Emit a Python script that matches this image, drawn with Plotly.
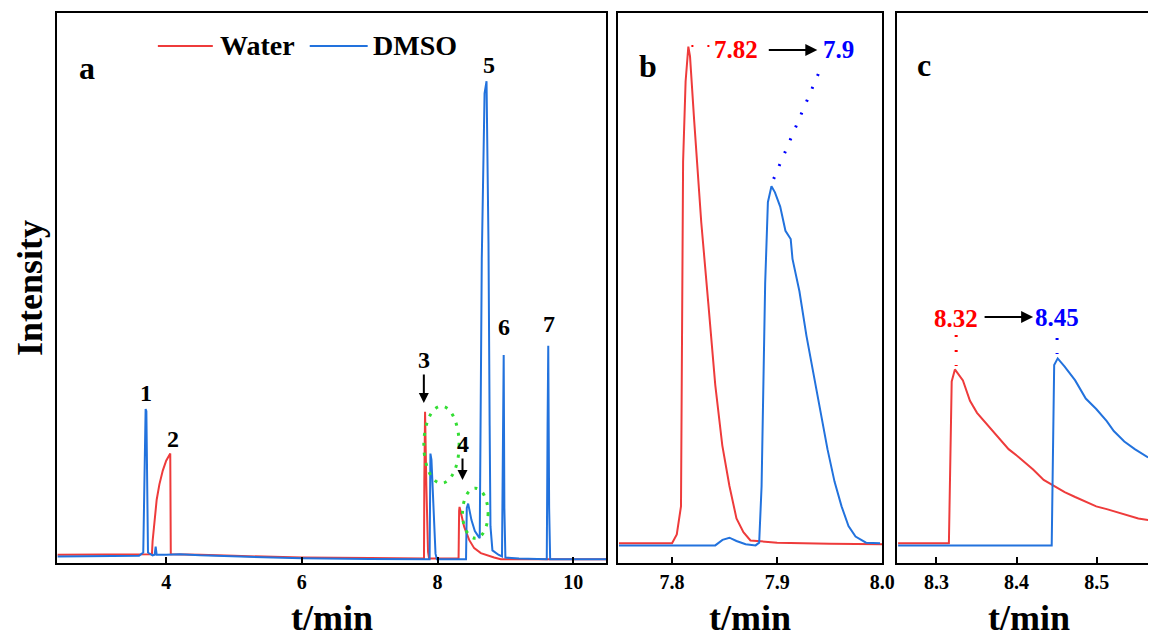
import plotly.graph_objects as go

# ---------------- data ----------------
# Panel a (full chromatogram)
water_a_t = [2.40, 3.00, 3.60, 3.79, 3.80, 3.83, 3.86, 3.90, 3.95, 4.00, 4.047, 4.060, 4.068,
             4.10, 4.50, 5.00, 6.00, 7.00, 7.80, 7.805, 7.816, 7.835, 7.86, 7.875, 8.00, 8.31,
             8.318, 8.324, 8.392, 8.466, 8.540, 8.638, 8.834, 8.932, 9.50, 10.50]
water_a_i = [1.5, 1.5, 1.5, 1.6, 4.0, 8.5, 11.5, 14.3, 16.8, 18.6, 19.8, 19.9, 1.6,
             1.6, 1.5, 1.3, 1.0, 0.9, 0.8, 15.0, 27.5, 14.0, 2.0, 0.8, 0.8, 0.8,
             9.5, 10.2, 6.6, 4.2, 2.7, 1.8, 1.0, 0.7, 0.7, 0.7]

dmso_a_t = [2.40, 3.00, 3.60, 3.662, 3.686, 3.697, 3.708, 3.720, 3.732, 3.80, 3.83, 3.845, 3.86,
            4.00, 4.20, 4.50, 5.00, 6.00, 7.00, 7.883, 7.89, 7.895, 7.91, 7.93, 7.95, 7.97, 7.99,
            8.42, 8.431, 8.451, 8.50, 8.55, 8.604, 8.622, 8.652, 8.693, 8.722, 8.751, 8.768,
            8.780, 8.809, 8.897, 8.95, 8.965, 8.975, 8.985, 9.00, 9.20, 9.61, 9.622, 9.632,
            9.645, 9.66, 10.50]
dmso_a_i = [1.2, 1.2, 1.3, 1.9, 21.4, 28.0, 27.6, 14.0, 1.9, 1.4, 1.5, 3.0, 1.5,
            1.5, 1.6, 1.4, 1.2, 0.85, 0.75, 0.7, 12.0, 19.9, 18.8, 11.8, 5.9, 1.7, 0.7,
            0.7, 10.0, 10.8, 7.8, 5.8, 4.8, 4.5, 55.3, 85.4, 87.6, 58.2, 25.0,
            6.7, 2.3, 1.5, 1.2, 20.0, 37.8, 10.0, 1.0, 0.8, 0.7, 25.0, 39.5,
            10.0, 0.7, 0.7]

# Panel b (zoom 7.75 - 8.0 min)
water_b_t = [7.7495, 7.80, 7.8045, 7.8085, 7.8105, 7.8129, 7.8155, 7.8171, 7.8211, 7.8278,
             7.8345, 7.8411, 7.8478, 7.8546, 7.8613, 7.8679, 7.8746, 7.90, 7.95, 8.0]
water_b_i = [3.6, 3.6, 5.2, 10.3, 72.9, 87.6, 93.9, 92.1, 80.3, 61.9,
             47.2, 32.4, 21.4, 14.0, 8.1, 5.6, 4.1, 3.7, 3.5, 3.4]

dmso_b_t = [7.7495, 7.8411, 7.8480, 7.8546, 7.8613, 7.8700, 7.8795, 7.8829, 7.8852, 7.8886,
            7.8912, 7.8946, 7.8979, 7.9029, 7.9079, 7.9129, 7.9146, 7.9212, 7.9279, 7.9346,
            7.9413, 7.9479, 7.9546, 7.9613, 7.9679, 7.9746, 7.9846, 7.9979]
dmso_b_i = [3.2, 3.2, 4.2, 4.6, 4.0, 3.4, 3.2, 3.7, 14.0, 50.8,
            65.6, 68.5, 67.4, 64.8, 60.4, 58.9, 55.3, 49.4, 41.3, 34.6,
            28.0, 20.7, 14.8, 10.3, 6.7, 4.8, 3.7, 3.6]

# Panel c (zoom 8.25 - 8.56 min)
water_c_t = [8.2521, 8.3155, 8.3190, 8.3230, 8.3330, 8.3418, 8.3506, 8.3637, 8.3769, 8.3900,
             8.4031, 8.4206, 8.4338, 8.4469, 8.4600, 8.4731, 8.4863, 8.4994, 8.5125, 8.5256,
             8.5388, 8.5519, 8.5641]
water_c_i = [3.6, 3.6, 33.0, 35.2, 33.2, 29.5, 27.3, 25.1, 22.9, 20.7,
             19.2, 17.0, 15.1, 14.0, 12.9, 12.0, 11.2, 10.3, 9.8, 9.2,
             8.7, 8.1, 7.8]

dmso_c_t = [8.2521, 8.4438, 8.4469, 8.4513, 8.4600, 8.4731, 8.4863, 8.4994, 8.5125, 8.5213,
            8.5344, 8.5475, 8.5641]
dmso_c_i = [3.2, 3.2, 36.0, 37.2, 35.7, 33.2, 29.9, 28.0, 25.8, 24.0,
            22.1, 20.7, 19.2]

# peak labels in panel a
peak_labels = ["1", "2", "5", "6", "7"]
peak_label_t = [3.698, 4.10, 8.756, 8.977, 9.64]
peak_label_i = [31.0, 22.5, 90.6, 42.9, 43.5]

series_names = ["Water", "DMSO"]
x_ticks_a = [4, 6, 8, 10]
x_ticks_b = [7.8, 7.9, 8.0]
x_ticks_c = [8.3, 8.4, 8.5]

# ---------------- style ----------------
FONT = "Liberation Serif, Times New Roman, serif"
W, H = 1149, 636          # reference picture size
W_FIG = 1161              # layout width (the page is shown slightly narrowed)
RED = "#ee3b3b"
BLUE = "#2272dd"


def px(x):
    return x / W


def py(y):
    return 1 - y / H


ydom = [py(563), py(13)]

fig = go.Figure()
fig.add_trace(go.Scatter(x=water_a_t, y=water_a_i, mode="lines", name=series_names[0],
                         line=dict(color=RED, width=2), xaxis="x", yaxis="y"))
fig.add_trace(go.Scatter(x=dmso_a_t, y=dmso_a_i, mode="lines", name=series_names[1],
                         line=dict(color=BLUE, width=2), xaxis="x", yaxis="y"))
fig.add_trace(go.Scatter(x=water_b_t, y=water_b_i, mode="lines", showlegend=False,
                         line=dict(color=RED, width=2), xaxis="x2", yaxis="y2"))
fig.add_trace(go.Scatter(x=dmso_b_t, y=dmso_b_i, mode="lines", showlegend=False,
                         line=dict(color=BLUE, width=2), xaxis="x2", yaxis="y2"))
fig.add_trace(go.Scatter(x=water_c_t, y=water_c_i, mode="lines", showlegend=False,
                         line=dict(color=RED, width=2), xaxis="x3", yaxis="y3"))
fig.add_trace(go.Scatter(x=dmso_c_t, y=dmso_c_i, mode="lines", showlegend=False,
                         line=dict(color=BLUE, width=2), xaxis="x3", yaxis="y3"))

tickfont = dict(family=FONT, size=20, color="black", weight="bold")


def xax(domain, rng, ticks, labels, anchor, mirror=True):
    return dict(domain=domain, range=rng, tickvals=ticks, ticktext=labels, anchor=anchor,
                showline=True, linewidth=2, linecolor="black", mirror=mirror,
                ticks="inside", ticklen=6, tickwidth=2, tickcolor="black",
                showgrid=False, zeroline=False, tickfont=tickfont)


def yax(anchor, mirror=True):
    return dict(domain=ydom, range=[0, 100], anchor=anchor, showline=True, linewidth=2,
                linecolor="black", mirror=mirror, showticklabels=False, ticks="",
                showgrid=False, zeroline=False)


annotations = []
bold = dict(family=FONT, color="black", weight="bold")


def ptext(x, y, text, size, color="black", angle=0):
    return dict(x=px(x), y=py(y), xref="paper", yref="paper", text=text, showarrow=False,
                xanchor="center", yanchor="middle", textangle=angle,
                font=dict(family=FONT, size=size, color=color, weight="bold"))


# peak number labels
for lab, t, i in zip(peak_labels, peak_label_t, peak_label_i):
    annotations.append(dict(x=t, y=i, xref="x", yref="y", text=lab, showarrow=False,
                            xanchor="center", yanchor="middle", font=dict(bold, size=24)))
# arrowed labels 3 and 4
annotations.append(dict(x=7.798, y=29.1, xref="x", yref="y", text="3", showarrow=True,
                        ax=0, ay=-43, arrowhead=2, arrowsize=1, arrowwidth=2,
                        arrowcolor="black", font=dict(bold, size=24)))
annotations.append(dict(x=8.368, y=15.1, xref="x", yref="y", text="4", showarrow=True,
                        ax=0, ay=-36, arrowhead=2, arrowsize=1, arrowwidth=2,
                        arrowcolor="black", font=dict(bold, size=24)))

# panel letters
for lab, x, y in [("a", 87, 68), ("b", 649, 66), ("c", 925, 65)]:
    annotations.append(ptext(x, y, lab, 32))

# axis titles
for x in [332, 751, 1030]:
    annotations.append(ptext(x, 618, "t/min", 36))
annotations.append(ptext(30, 288, "Intensity", 36, angle=-90))

# legend (drawn as lines + text)
annotations.append(ptext(258, 46, series_names[0], 28))
annotations.append(ptext(415, 46, series_names[1], 28))

# panel b retention-time labels
annotations.append(ptext(737, 50, "7.82", 25, "#ff0000"))
annotations.append(ptext(839, 50, "7.9", 25, "#0000ff"))
annotations.append(dict(x=px(818), y=py(50), xref="paper", yref="paper", text="", showarrow=True,
                        ax=-50, ay=0, arrowhead=2, arrowsize=1.2, arrowwidth=2, arrowcolor="black"))
# panel c retention-time labels
annotations.append(ptext(957, 318, "8.32", 25, "#ff0000"))
annotations.append(ptext(1058, 317, "8.45", 25, "#0000ff"))
annotations.append(dict(x=px(1034), y=py(317), xref="paper", yref="paper", text="", showarrow=True,
                        ax=-50, ay=0, arrowhead=2, arrowsize=1.2, arrowwidth=2, arrowcolor="black"))

shapes = []
# legend swatches
shapes.append(dict(type="line", xref="paper", yref="paper", x0=px(158), x1=px(213), y0=py(46), y1=py(46),
                   line=dict(color=RED, width=2)))
shapes.append(dict(type="line", xref="paper", yref="paper", x0=px(310), x1=px(368), y0=py(46), y1=py(46),
                   line=dict(color=BLUE, width=2)))
GREEN = "#33dd33"
shapes.append(dict(type="circle", xref="x", yref="y", x0=7.798, x1=8.318, y0=14.5, y1=28.5,
                   line=dict(color=GREEN, width=3, dash="3px,7px")))
shapes.append(dict(type="circle", xref="x", yref="y", x0=8.368, x1=8.745, y0=4.5, y1=13.6,
                   line=dict(color=GREEN, width=3, dash="3px,7px")))
# dotted guide lines
shapes.append(dict(type="line", xref="paper", yref="paper", x0=px(692), y0=py(46), x1=px(712), y1=py(46),
                   line=dict(color="#ff0000", width=2, dash="2px,14px")))
shapes.append(dict(type="line", xref="paper", yref="paper", x0=px(819), y0=py(74), x1=px(773), y1=py(182),
                   line=dict(color="#0000ff", width=3, dash="2px,12px")))
shapes.append(dict(type="line", xref="paper", yref="paper", x0=px(957), y0=py(335), x1=px(957), y1=py(366),
                   line=dict(color="#ff0000", width=3, dash="2px,13px")))
shapes.append(dict(type="line", xref="paper", yref="paper", x0=px(1058), y0=py(338), x1=px(1058), y1=py(354),
                   line=dict(color="#0000ff", width=3, dash="2px,13px")))

fig.update_layout(
    width=W_FIG, height=H,
    margin=dict(l=0, r=0, t=0, b=0),
    paper_bgcolor="white", plot_bgcolor="white",
    xaxis=xax([px(57), px(607)], [2.39, 10.49], x_ticks_a, [str(v) for v in x_ticks_a], "y"),
    yaxis=yax("x"),
    xaxis2=xax([px(619), px(883)], [7.749, 8.0], x_ticks_b, ["%.1f" % v for v in x_ticks_b], "y2"),
    yaxis2=yax("x2"),
    xaxis3=xax([px(898), 1.0], [8.251, 8.564], x_ticks_c, ["%.1f" % v for v in x_ticks_c], "y3"),
    yaxis3=yax("x3", mirror=False),
    showlegend=False,
    annotations=annotations,
    shapes=shapes,
)

post = ("document.documentElement.style.margin='0';document.documentElement.style.overflow='hidden';"
        "document.body.style.margin='0';document.body.style.padding='0';"
        "document.body.style.overflow='hidden';")

fig.write_html("out.html", post_script=post,
               config={"responsive": False, "displayModeBar": False})
